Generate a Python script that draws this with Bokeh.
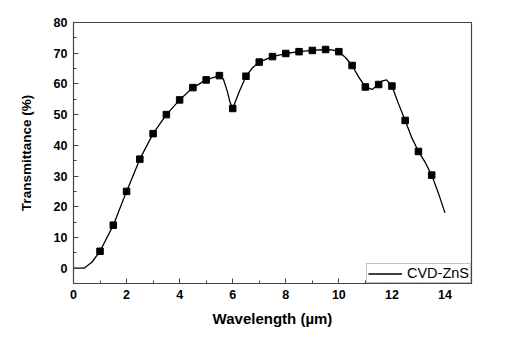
from bokeh.plotting import figure
from bokeh.models import Range1d, SingleIntervalTicker, Legend, LegendItem
from bokeh.embed import file_html
from bokeh.resources import INLINE

# Marker data (wavelength µm, transmittance %)
marker_x = [1, 1.5, 2, 2.5, 3, 3.5, 4, 4.5, 5, 5.5, 6, 6.5, 7, 7.5, 8, 8.5, 9, 9.5, 10,
            10.5, 11, 11.5, 12, 12.5, 13, 13.5]
marker_y = [5.5, 14, 25, 35.5, 43.8, 50, 54.8, 58.8, 61.3, 62.7, 52, 62.5, 67.1, 68.9, 69.9,
            70.5, 70.9, 71.2, 70.5, 66, 59, 59.8, 59.3, 48.1, 38, 30.3]

# Curve
curve_x = [0, 0.4, 0.7, 1, 1.5, 2, 2.5, 3, 3.5, 4, 4.5, 5, 5.5, 5.65, 5.8, 5.9, 6, 6.25, 6.5,
           6.75, 7, 7.5, 8, 8.5, 9, 9.5, 9.75, 10, 10.25, 10.5, 10.75, 11, 11.25, 11.5,
           11.65, 11.8, 12, 12.25, 12.5, 12.75, 13, 13.25, 13.5, 13.75, 14]
curve_y = [0, 0, 2.0, 5.5, 14, 25, 35.5, 43.8, 50, 54.8, 58.8, 61.3, 62.7, 61.5, 57.5, 54,
           52, 57.5, 62.5, 65.3, 67.1, 68.9, 69.9, 70.5, 70.9, 71.2, 71.1, 70.5, 68.6, 66,
           62.2, 59, 58.2, 59.8, 61.0, 61.3, 59.3, 53.5, 48.1, 42.5, 38, 34.5, 30.3, 24.5, 18]

x_ticks = [0, 2, 4, 6, 8, 10, 12, 14]
y_ticks = [0, 10, 20, 30, 40, 50, 60, 70, 80]

p = figure(width=522, height=337, output_backend="svg", toolbar_location=None,
           x_range=Range1d(0, 15), y_range=Range1d(-5, 80),
           min_border_left=73, min_border_right=51, min_border_top=22, min_border_bottom=54)
p.background_fill_color = "white"
p.border_fill_color = "white"
p.grid.visible = False
p.outline_line_color = "#444444"
p.outline_line_width = 1.2

line_r = p.line(curve_x, curve_y, line_color="black", line_width=1.3)
p.scatter(marker_x, marker_y, marker="square", size=6.5, fill_color="black", line_color="black")

p.xaxis.ticker = SingleIntervalTicker(interval=2, num_minor_ticks=2)
p.yaxis.ticker = SingleIntervalTicker(interval=10, num_minor_ticks=2)

for ax in (p.xaxis[0], p.yaxis[0]):
    ax.major_tick_in = 5
    ax.major_tick_out = 0
    ax.minor_tick_in = 3
    ax.minor_tick_out = 0
    ax.axis_line_color = "#444444"
    ax.major_tick_line_color = "#444444"
    ax.minor_tick_line_color = "#444444"
    ax.major_label_text_font = "Liberation Sans"
    ax.major_label_text_font_style = "bold"
    ax.major_label_text_font_size = "12.5px"
    ax.major_label_text_color = "black"
    ax.axis_label_text_font = "Liberation Sans"
    ax.axis_label_text_font_style = "bold"
    ax.axis_label_text_color = "black"

p.xaxis.axis_label = "Wavelength (µm)"
p.yaxis.axis_label = "Transmittance (%)"
p.xaxis.axis_label_text_font_size = "15px"
p.yaxis.axis_label_text_font_size = "13.5px"
p.xaxis.major_label_standoff = 6
p.xaxis.axis_label_standoff = 8
p.yaxis.major_label_standoff = 6
p.yaxis.axis_label_standoff = 17

legend = Legend(items=[LegendItem(label="CVD-ZnS", renderers=[line_r])],
                location="bottom_right", margin=0, padding=1, spacing=0,
                border_line_color="#888888", border_line_width=1,
                label_text_font="Liberation Sans", label_text_font_size="14.5px",
                label_text_color="black", glyph_width=34, glyph_height=13,
                label_standoff=5, label_height=13)
p.add_layout(legend)

open("out.html", "w").write(file_html(p, INLINE))
